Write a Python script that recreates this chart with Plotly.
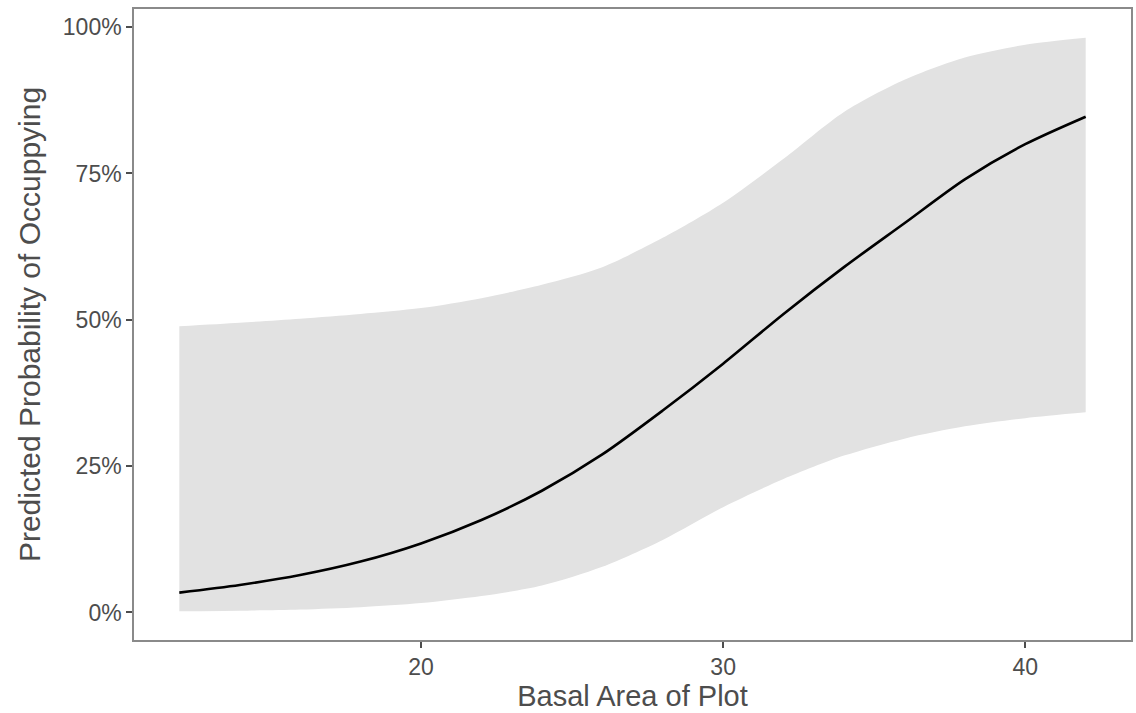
import plotly.graph_objects as go

basal_area = [12, 14, 16, 18, 20, 22, 24, 26, 28, 30, 32, 34, 36, 38, 40, 42]
pred_prob = [0.034, 0.047, 0.064, 0.087, 0.118, 0.158, 0.208, 0.270, 0.345, 0.425, 0.510, 0.590, 0.665, 0.740, 0.800, 0.847]
upper_ci = [0.489, 0.495, 0.502, 0.510, 0.520, 0.537, 0.560, 0.590, 0.640, 0.700, 0.775, 0.855, 0.910, 0.948, 0.970, 0.982]
lower_ci = [0.002, 0.003, 0.005, 0.009, 0.016, 0.028, 0.046, 0.078, 0.124, 0.180, 0.228, 0.268, 0.297, 0.318, 0.332, 0.342]

y_ticks = [0, 0.25, 0.5, 0.75, 1.0]
y_tick_labels = ["0%", "25%", "50%", "75%", "100%"]
x_ticks = [20, 30, 40]

font_family = "Liberation Sans, Arial, Helvetica, sans-serif"

fig = go.Figure()
fig.add_trace(go.Scatter(x=basal_area, y=lower_ci, mode="lines", line=dict(width=0, shape="spline", smoothing=0.8),
                         showlegend=False, hoverinfo="skip"))
fig.add_trace(go.Scatter(x=basal_area, y=upper_ci, mode="lines", line=dict(width=0, shape="spline", smoothing=0.8),
                         fill="tonexty", fillcolor="#e2e2e2", showlegend=False, hoverinfo="skip"))
fig.add_trace(go.Scatter(x=basal_area, y=pred_prob, mode="lines",
                         line=dict(color="black", width=2.6, shape="spline", smoothing=0.8), showlegend=False))

span_x = max(basal_area) - min(basal_area)
ymin, ymax = min(lower_ci), max(upper_ci)
span_y = ymax - ymin

axis_common = dict(
    showline=True, linecolor="#8a8a8a", linewidth=1.5, mirror=True,
    ticks="outside", ticklen=6, tickwidth=1.5, tickcolor="#4d4d4d",
    showgrid=False, zeroline=False,
    tickfont=dict(family=font_family, size=23, color="#4d4d4d"),
)

fig.update_layout(
    width=1136, height=713,
    margin=dict(l=134, r=3, t=9, b=73),
    paper_bgcolor="white", plot_bgcolor="white",
    font=dict(family=font_family),
    xaxis=dict(
        **axis_common,
        range=[min(basal_area) - 0.05 * span_x, max(basal_area) + 0.05 * span_x],
        tickvals=x_ticks,
        title=dict(text="Basal Area of Plot", font=dict(family=font_family, size=29, color="#4d4d4d"), standoff=0),
    ),
    yaxis=dict(
        **axis_common,
        range=[ymin - 0.05 * span_y, ymax + 0.05 * span_y],
        tickvals=y_ticks, ticktext=y_tick_labels,
        title=dict(text="Predicted Probability of Occuppying", font=dict(family=font_family, size=30, color="#4d4d4d"), standoff=13),
    ),
)

fig.write_html("out.html", config={"displayModeBar": False},
               post_script="document.body.style.margin='0px';")
